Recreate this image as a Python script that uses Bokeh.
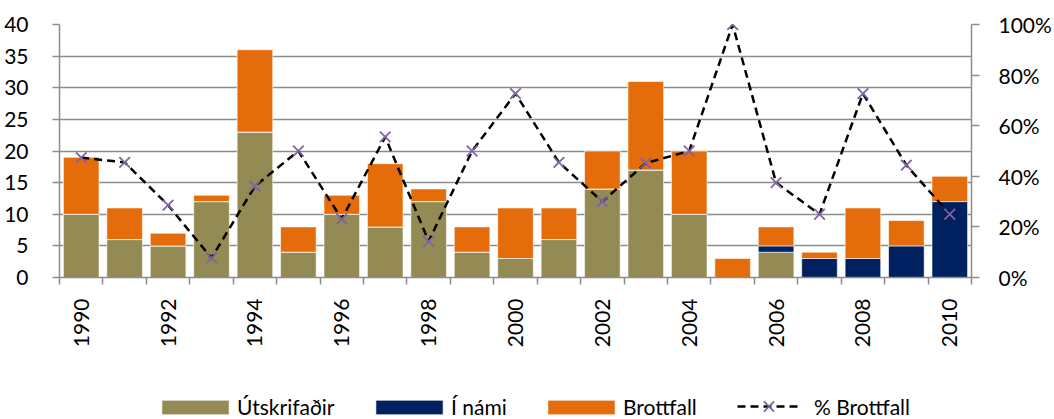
import math
from bokeh.plotting import figure
from bokeh.layouts import column
from bokeh.models import (ColumnDataSource, Range1d, LinearAxis, FixedTicker,
                          NumeralTickFormatter, Legend, LegendItem)
from bokeh.embed import file_html
from bokeh.resources import INLINE

# ---- data ----
years = [1990, 1991, 1992, 1993, 1994, 1995, 1996, 1997, 1998, 1999, 2000,
         2001, 2002, 2003, 2004, 2005, 2006, 2007, 2008, 2009, 2010]
utskrifadir = [10, 6, 5, 12, 23, 4, 10, 8, 12, 4, 3, 6, 14, 17, 10, 0, 4, 0, 0, 0, 0]
i_nami = [0, 0, 0, 0, 0, 0, 0, 0, 0, 0, 0, 0, 0, 0, 0, 0, 1, 3, 3, 5, 12]
brottfall = [9, 5, 2, 1, 13, 4, 3, 10, 2, 4, 8, 5, 6, 14, 10, 3, 3, 1, 8, 4, 4]
pct_brottfall = [0.474, 0.455, 0.286, 0.077, 0.361, 0.50, 0.231, 0.556, 0.143, 0.50,
                 0.727, 0.455, 0.30, 0.452, 0.50, 1.00, 0.375, 0.25, 0.727, 0.444, 0.25]
label_years = [1990, 1992, 1994, 1996, 1998, 2000, 2002, 2004, 2006, 2008, 2010]
series_names = ["Útskrifaðir", "Í námi", "Brottfall", "% Brottfall"]
left_ticks = [0, 5, 10, 15, 20, 25, 30, 35, 40]
right_ticks = [0, 0.2, 0.4, 0.6, 0.8, 1.0]

COL_U = "#948A54"
COL_N = "#002060"
COL_B = "#E46C0A"
COL_X = "#8064A2"
GRID = "#8C8C8C"
FONT = "Lato"
FS = "21px"

W = 1054
H1 = 350
H2 = 69
p = figure(width=W, height=H1, output_backend="svg", toolbar_location=None,
           x_range=Range1d(1989.5, 2010.5), y_range=Range1d(0, 40),
           min_border_left=59, min_border_right=W - 973, min_border_top=24,
           min_border_bottom=H1 - 286)
p.outline_line_color = None
p.background_fill_color = "white"
p.border_fill_color = "white"
p.xgrid.visible = False
p.ygrid.grid_line_color = GRID
p.ygrid.grid_line_width = 1.5

# left axis
p.yaxis.ticker = FixedTicker(ticks=left_ticks)
p.yaxis.axis_line_color = GRID
p.yaxis.axis_line_width = 1.5
p.yaxis.major_tick_line_color = GRID
p.yaxis.major_tick_line_width = 1.5
p.yaxis.major_tick_out = 7
p.yaxis.major_tick_in = 0
p.yaxis.minor_tick_line_color = None
p.yaxis.major_label_standoff = 24
p.yaxis.major_label_text_font = FONT
p.yaxis.major_label_text_font_size = FS
p.yaxis.major_label_text_color = "black"

# bottom axis
boundaries = [y - 0.5 for y in years] + [years[-1] + 0.5]
p.xaxis.ticker = FixedTicker(ticks=label_years, minor_ticks=boundaries)
p.xaxis.axis_line_color = GRID
p.xaxis.axis_line_width = 1.5
p.xaxis.major_tick_out = 0
p.xaxis.major_tick_in = 0
p.xaxis.major_tick_line_color = None
p.xaxis.minor_tick_line_color = GRID
p.xaxis.minor_tick_line_width = 1.5
p.xaxis.minor_tick_out = 7
p.xaxis.minor_tick_in = 0
p.xaxis.major_label_orientation = math.pi / 2
p.xaxis.major_label_standoff = 14
p.xaxis.major_label_text_font = FONT
p.xaxis.major_label_text_font_size = FS
p.xaxis.major_label_text_color = "black"

# right axis
p.extra_y_ranges = {"pct": Range1d(0, 1)}
ax = LinearAxis(y_range_name="pct", ticker=FixedTicker(ticks=right_ticks),
                formatter=NumeralTickFormatter(format="0%"))
ax.axis_line_color = GRID
ax.axis_line_width = 1.5
ax.major_tick_line_color = GRID
ax.major_tick_line_width = 1.5
ax.major_tick_out = 8
ax.major_tick_in = 0
ax.minor_tick_line_color = None
ax.major_label_standoff = 19
ax.major_label_text_font = FONT
ax.major_label_text_font_size = FS
ax.major_label_text_color = "black"
p.add_layout(ax, "right")

src = ColumnDataSource(dict(years=years, u=utskrifadir, n=i_nami, b=brottfall,
                            pct=pct_brottfall))
bar_style = dict(line_color="white", line_alpha=0.6, line_width=1)
p.vbar_stack(["u", "n", "b"], x="years", width=0.82, source=src,
             fill_color=[COL_U, COL_N, COL_B], **bar_style)
line_style = dict(line_color="black", line_width=2.5, line_dash="8 5")
mark_style = dict(marker="x", size=15, line_color=COL_X, line_width=1.8)
p.line("years", "pct", source=src, y_range_name="pct", **line_style)
p.scatter("years", "pct", source=src, y_range_name="pct", **mark_style)

# ---- legend strip (separate figure below the chart) ----
q = figure(width=W, height=H2, output_backend="svg", toolbar_location=None,
           x_range=Range1d(0, 1), y_range=Range1d(0, 1),
           x_axis_type=None, y_axis_type=None,
           min_border_left=0, min_border_right=0, min_border_top=0,
           min_border_bottom=0)
q.outline_line_color = None
q.background_fill_color = "white"
q.border_fill_color = "white"
q.xgrid.visible = False
q.ygrid.visible = False
# proxy renderers for the legend keys (placed outside the visible range)
proxy = ColumnDataSource(dict(x=[-5, -4], y=[-5, -4]))
lg_u = q.rect("x", "y", width=0.1, height=0.1, source=proxy, fill_color=COL_U, **bar_style)
lg_n = q.rect("x", "y", width=0.1, height=0.1, source=proxy, fill_color=COL_N, **bar_style)
lg_b = q.rect("x", "y", width=0.1, height=0.1, source=proxy, fill_color=COL_B, **bar_style)
lg_l = q.line("x", "y", source=proxy, **line_style)
lg_m = q.scatter("x", "y", source=proxy, **mark_style)

key_renderers = [[lg_u], [lg_n], [lg_b], [lg_l, lg_m]]
key_x = [94, 308, 480, 678]
key_gw = [84, 84, 84, 63]
key_gh = [18, 18, 18, 36]
key_y = [0, 0, 0, -5]
key_standoff = [0, 0, 0, 14]
for name, rs, kx, gw, gh, ky, so in zip(series_names, key_renderers, key_x,
                                        key_gw, key_gh, key_y, key_standoff):
    lg = Legend(items=[LegendItem(label=name, renderers=rs)],
                location=(kx, ky), orientation="horizontal", glyph_width=gw,
                glyph_height=gh, label_standoff=so, spacing=0, padding=0,
                margin=0, border_line_color=None, background_fill_alpha=0,
                label_text_font=FONT, label_text_font_size=FS, label_height=14,
                label_text_color="black")
    q.add_layout(lg)

layout = column(p, q, spacing=0)
open("out.html", "w").write(file_html(layout, INLINE))
